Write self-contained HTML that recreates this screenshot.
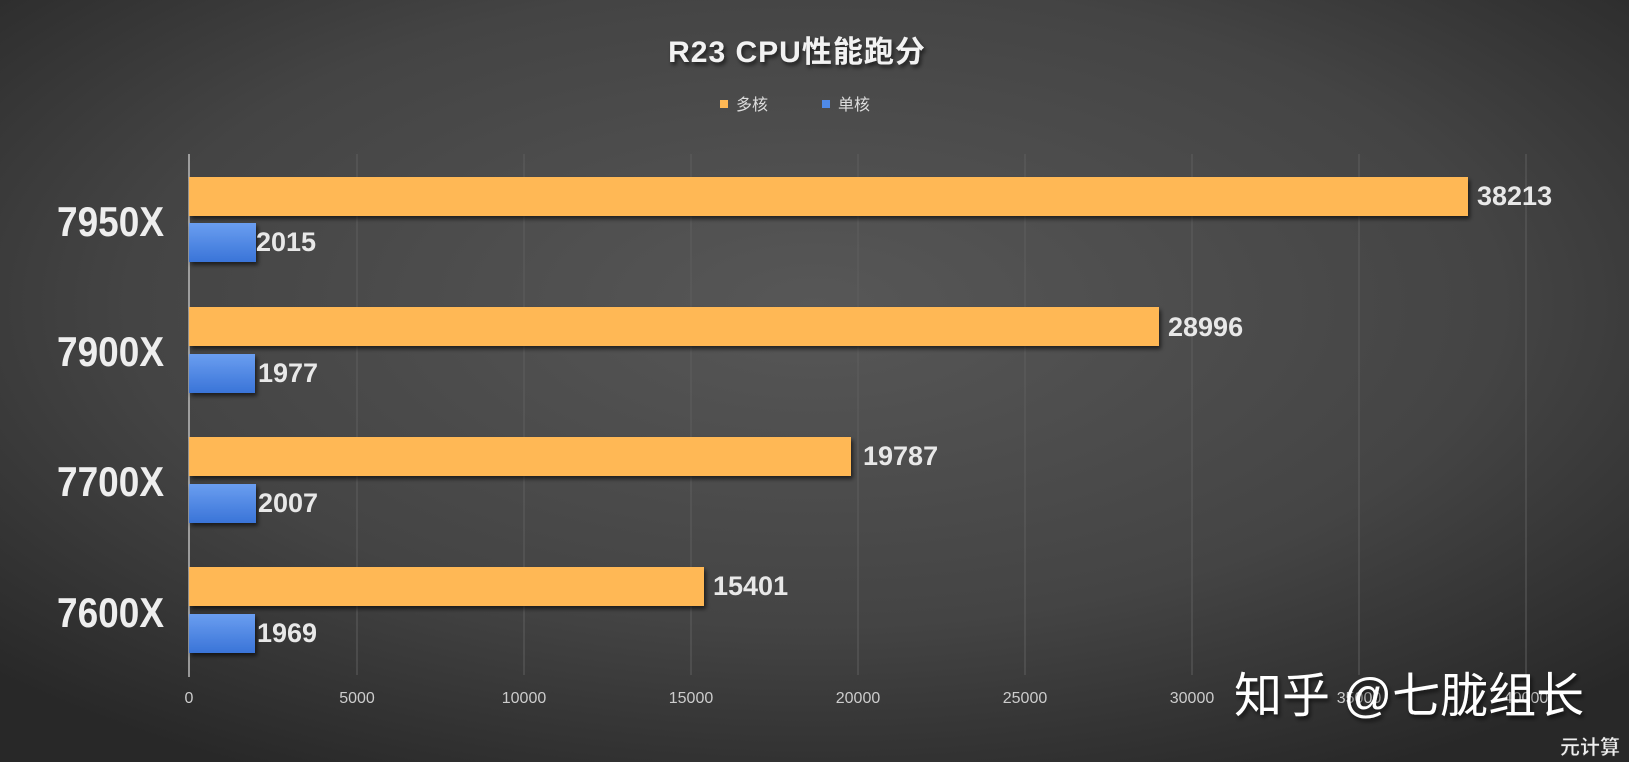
<!DOCTYPE html>
<html><head><meta charset="utf-8"><style>
html,body{margin:0;padding:0;width:1629px;height:762px;overflow:hidden;background:#333}
svg{display:block}
</style></head><body>
<svg width="1629" height="762" xmlns="http://www.w3.org/2000/svg">
<defs>
<radialGradient id="bg" cx="50%" cy="40%" r="70%">
<stop offset="0" stop-color="#575757"/><stop offset="0.6" stop-color="#444"/><stop offset="1" stop-color="#282828"/>
</radialGradient>
<linearGradient id="bl" x1="0" y1="0" x2="0" y2="1">
<stop offset="0" stop-color="#6a9ef0"/><stop offset="1" stop-color="#3a74d8"/>
</linearGradient>
<filter id="sh" x="-5%" y="-20%" width="110%" height="150%"><feDropShadow dx="2" dy="3" stdDeviation="2" flood-color="#000" flood-opacity="0.6"/></filter>
</defs>
<rect width="1629" height="762" fill="url(#bg)"/>
<g stroke="#5e5e5e" stroke-width="1">
<line x1="357" y1="154" x2="357" y2="675"/><line x1="524" y1="154" x2="524" y2="675"/>
<line x1="691" y1="154" x2="691" y2="675"/><line x1="858" y1="154" x2="858" y2="675"/>
<line x1="1025" y1="154" x2="1025" y2="675"/><line x1="1192" y1="154" x2="1192" y2="675"/>
<line x1="1359" y1="154" x2="1359" y2="675"/><line x1="1526" y1="154" x2="1526" y2="675"/>
</g>
<line x1="189" y1="154" x2="189" y2="677" stroke="#bbb" stroke-width="1.5"/>
<text x="797" y="62" font-size="30" font-weight="bold" letter-spacing="1" text-anchor="middle" font-family="Liberation Sans, Noto Sans CJK SC, sans-serif" fill="#f2f2f2" filter="url(#sh)">R23 CPU性能跑分</text>
<rect x="720" y="100" width="8" height="8" fill="#ffb855"/>
<text x="736" y="110" font-size="16" fill="#ddd" font-family="Liberation Sans, Noto Sans CJK SC, sans-serif">多核</text>
<rect x="822" y="100" width="8" height="8" fill="#4f8ae8"/>
<text x="838" y="110" font-size="16" fill="#ddd" font-family="Liberation Sans, Noto Sans CJK SC, sans-serif">单核</text>

<g filter="url(#sh)">
<rect x="189" y="177" width="1279" height="39" fill="#ffb855"/>
<rect x="189" y="223" width="67" height="39" fill="url(#bl)"/>
<rect x="189" y="307" width="970" height="39" fill="#ffb855"/>
<rect x="189" y="354" width="66" height="39" fill="url(#bl)"/>
<rect x="189" y="437" width="662" height="39" fill="#ffb855"/>
<rect x="189" y="484" width="67" height="39" fill="url(#bl)"/>
<rect x="189" y="567" width="515" height="39" fill="#ffb855"/>
<rect x="189" y="614" width="66" height="39" fill="url(#bl)"/>
</g>
<g font-family="Liberation Sans, sans-serif" font-weight="bold" fill="#e8e8e8" font-size="27">
<text x="1477" y="205">38213</text><text x="256" y="251">2015</text>
<text x="1168" y="336">28996</text><text x="258" y="382">1977</text>
<text x="863" y="465">19787</text><text x="258" y="512">2007</text>
<text x="713" y="595">15401</text><text x="257" y="642">1969</text>
</g>
<g font-family="Liberation Sans, sans-serif" font-weight="bold" fill="#eee" font-size="42">
<text x="57" y="236" textLength="107" lengthAdjust="spacingAndGlyphs">7950X</text>
<text x="57" y="366" textLength="107" lengthAdjust="spacingAndGlyphs">7900X</text>
<text x="57" y="496" textLength="107" lengthAdjust="spacingAndGlyphs">7700X</text>
<text x="57" y="627" textLength="107" lengthAdjust="spacingAndGlyphs">7600X</text>
</g>
<g font-family="Liberation Sans, sans-serif" fill="#ccc" font-size="16" text-anchor="middle">
<text x="189" y="703">0</text><text x="357" y="703">5000</text><text x="524" y="703">10000</text>
<text x="691" y="703">15000</text><text x="858" y="703">20000</text><text x="1025" y="703">25000</text>
<text x="1192" y="703">30000</text><text x="1359" y="703">35000</text><text x="1526" y="703">40000</text>
</g>
<text x="1234" y="712" font-size="48" fill="#fff" font-family="Liberation Sans, Noto Sans CJK SC, sans-serif" filter="url(#sh)">知乎 @七胧组长</text>
<text x="1560" y="754" font-size="20" font-weight="bold" fill="#eee" stroke="#333" stroke-width="0.5" font-family="Liberation Sans, Noto Sans CJK SC, sans-serif">元计算</text>
</svg>
</body></html>
